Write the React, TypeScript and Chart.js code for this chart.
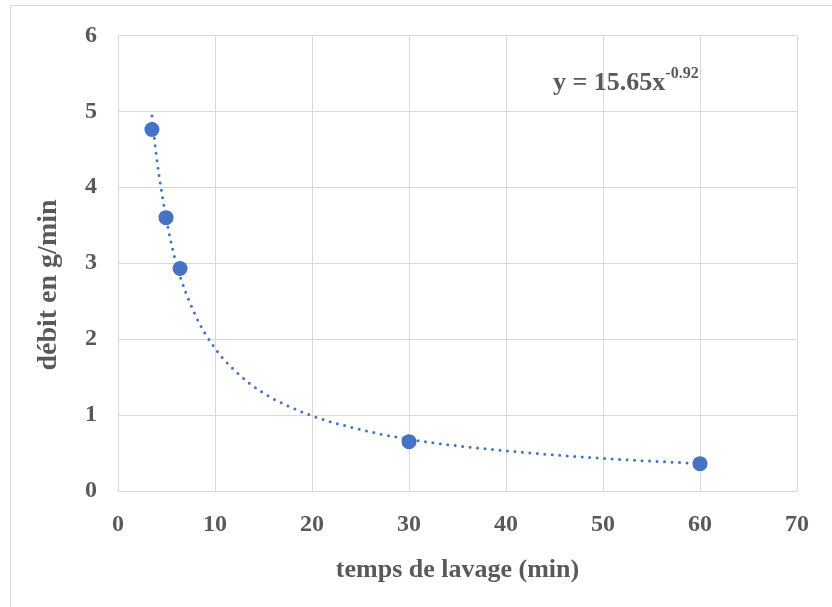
import React, { useEffect, useRef } from "react";
import { Chart, registerables } from "chart.js";

Chart.register(...registerables);

// Measured points: washing time (min) vs flow (g/min)
const tempsLavage = [3.5, 4.95, 6.4, 30, 60];
const debit = [4.76, 3.6, 2.93, 0.65, 0.36];

// Power trendline (y = 15.65x^-0.92)
const trendX = [3.5, 4, 5, 6, 8, 10, 12, 15, 20, 25, 30, 40, 50, 60];
const trendY = [4.94, 4.37, 3.57, 3.0, 2.31, 1.88, 1.59, 1.29, 0.99, 0.81, 0.68, 0.53, 0.43, 0.36];

const xTicks = [0, 10, 20, 30, 40, 50, 60, 70];
const yTicks = [0, 1, 2, 3, 4, 5, 6];

const equationMain = "y = 15.65x";
const equationExp = "-0.92";
const xTitle = "temps de lavage (min)";
const yTitle = "débit en g/min";

const FONT = '"Liberation Serif", "Times New Roman", serif';
const TEXT = "#595959";
const GRID = "#d9d9d9";
const BLUE = "#4472C4";

const decorPlugin = {
  id: "decor",
  beforeDraw(chart: any) {
    const ctx = chart.ctx;
    ctx.save();
    ctx.strokeStyle = GRID;
    ctx.lineWidth = 1;
    ctx.strokeRect(10.5, 5.5, 830, 610);
    ctx.restore();
  },
  afterDraw(chart: any) {
    const ctx = chart.ctx;
    ctx.save();
    ctx.fillStyle = TEXT;
    // equation
    ctx.font = `bold 26px ${FONT}`;
    ctx.textBaseline = "alphabetic";
    ctx.textAlign = "left";
    const ex = 553;
    const ey = 90;
    ctx.fillText(equationMain, ex, ey);
    const w = ctx.measureText(equationMain).width;
    ctx.font = `bold 16px ${FONT}`;
    ctx.fillText(equationExp, ex + w, ey - 12);
    // y title
    ctx.font = `bold 28px ${FONT}`;
    ctx.translate(49, 285);
    ctx.rotate(-Math.PI / 2);
    ctx.textAlign = "center";
    ctx.textBaseline = "middle";
    ctx.fillText(yTitle, 0, 0);
    ctx.restore();
  },
};

export default function App() {
  const ref = useRef<HTMLCanvasElement>(null);
  useEffect(() => {
    document.body.style.margin = "0";
    const tickFont = { family: FONT, size: 24, weight: "bold" as const };
    const titleFont = { family: FONT, size: 26, weight: "bold" as const };
    const chart = new Chart(ref.current!, {
      type: "scatter",
      data: {
        datasets: [
          {
            type: "scatter",
            label: "débit",
            data: tempsLavage.map((x, i) => ({ x, y: debit[i] })),
            backgroundColor: BLUE,
            borderColor: BLUE,
            pointRadius: 7.5,
            pointBorderWidth: 0,
            order: 0,
          },
          {
            type: "line",
            label: "tendance",
            data: trendX.map((x, i) => ({ x, y: trendY[i] })),
            borderColor: BLUE,
            borderWidth: 3,
            borderDash: [0, 7.5],
            borderCapStyle: "round",
            pointRadius: 0,
            cubicInterpolationMode: "monotone",
            fill: false,
            order: 1,
          } as any,
        ],
      },
      options: {
        responsive: false,
        animation: false,
        layout: { padding: { left: 0, top: 35, right: 35, bottom: 0 } },
        plugins: { legend: { display: false }, tooltip: { enabled: false } },
        scales: {
          x: {
            type: "linear",
            min: 0,
            max: 70,
            afterBuildTicks: (s: any) => {
              s.ticks = xTicks.map((v) => ({ value: v }));
            },
            afterFit: (s: any) => {
              s.height = 116;
            },
            grid: { color: GRID, drawTicks: false },
            border: { color: GRID },
            ticks: { font: tickFont, color: TEXT, padding: 19, maxRotation: 0 },
            title: {
              display: true,
              text: xTitle,
              font: titleFont,
              color: TEXT,
              padding: { top: 0, bottom: 21 },
            },
          },
          y: {
            type: "linear",
            min: 0,
            max: 6,
            afterBuildTicks: (s: any) => {
              s.ticks = yTicks.map((v) => ({ value: v }));
            },
            afterFit: (s: any) => {
              s.width = 118;
            },
            grid: { color: GRID, drawTicks: false },
            border: { color: GRID },
            ticks: { font: tickFont, color: TEXT, padding: 21 },
          },
        },
      },
      plugins: [decorPlugin],
    });
    return () => chart.destroy();
  }, []);
  return (
    <div style={{ width: 832, height: 607 }}>
      <canvas ref={ref} width={832} height={607} style={{ display: "block" }} />
    </div>
  );
}
